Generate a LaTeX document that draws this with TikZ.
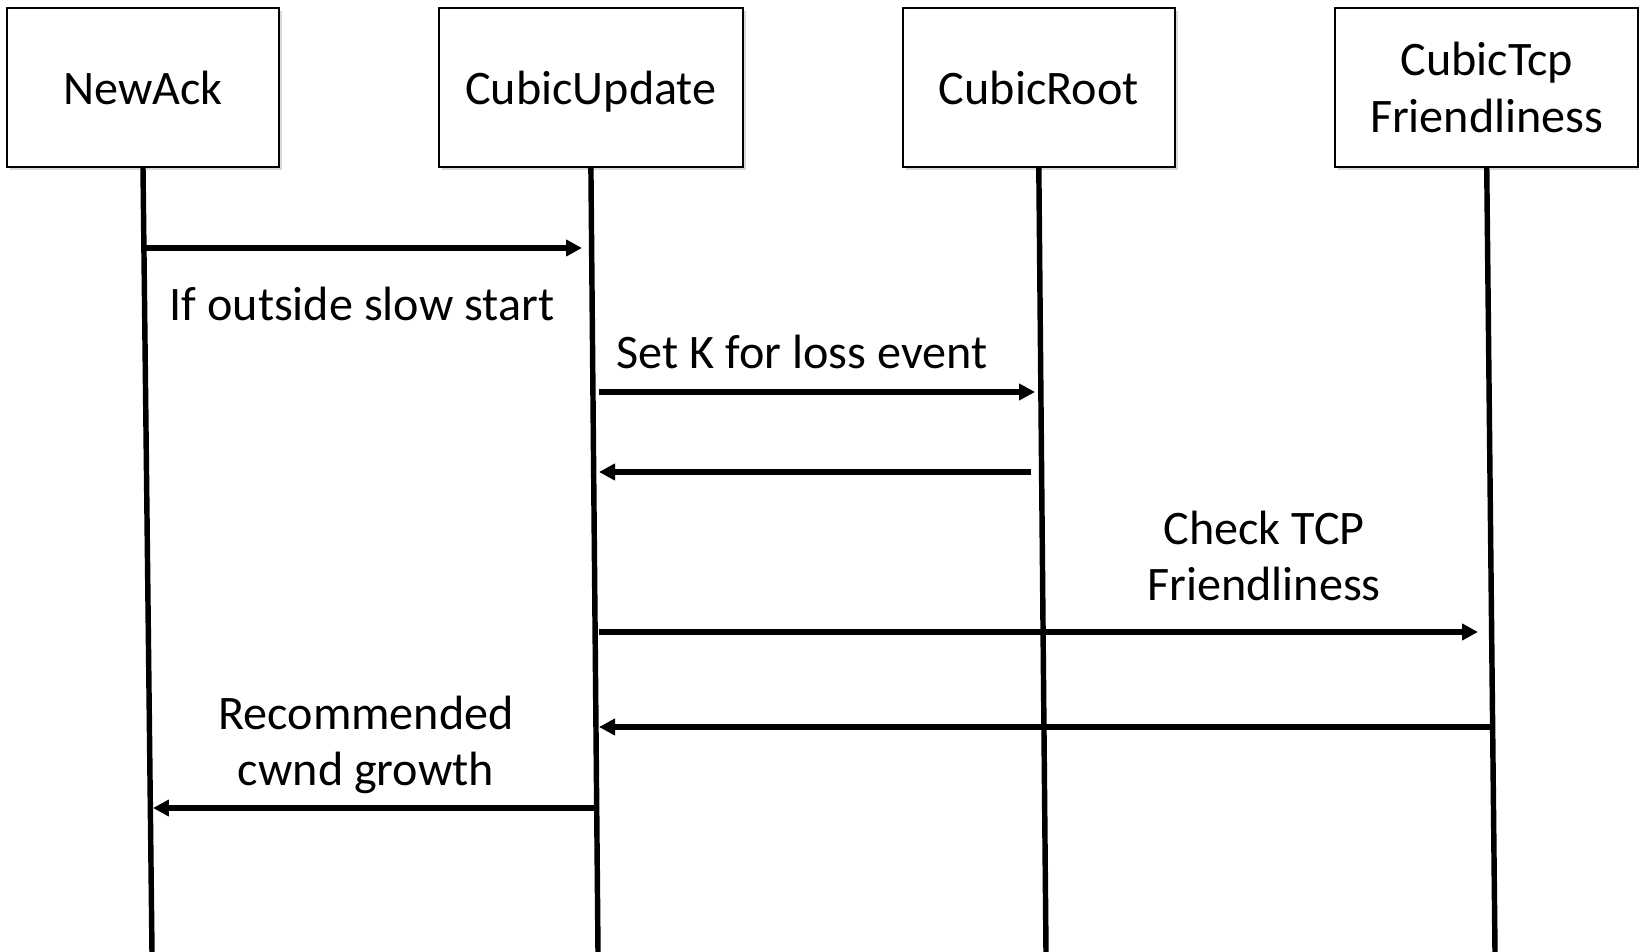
\documentclass[tikz,border=0pt]{standalone}
\usepackage{fontspec}
\setmainfont{Carlito}
\usepackage{tikz}
\usetikzlibrary{positioning, arrows.meta, shadows}

\begin{document}
\begin{tikzpicture}[x=0.02cm, y=-0.02cm, node distance=8.96cm, >={Triangle[length=0.32cm, width=0.32cm]}]
    % Stili
    \tikzstyle{block} = [draw, rectangle, fill=white, line width=1.2pt, minimum height=3.18cm, minimum width=5.44cm, align=center, font=\fontsize{27.4}{32}\selectfont, drop shadow={shadow xshift=0.06cm, shadow yshift=-0.06cm, opacity=0.3}]
    \tikzstyle{life} = [line width=3.1pt]
    \tikzstyle{msg} = [->, line width=3.1pt]
    \tikzstyle{lbl} = [align=center, font=\fontsize{27.4}{32}\selectfont]

    \useasboundingbox (0,0) rectangle (1639,952);

    % Oggetti
    \node [block] (ack) at (143,87.5) {NewAck};
    \node [block, right of=ack, minimum width=6.08cm, text depth=0pt] (upd) {CubicUpdate};
    \node [block, right of=upd] (root) {CubicRoot};
    \node [block, right of=root, minimum width=6.06cm] (tcp) {CubicTcp\\Friendliness};

    % Linee di vita
    \coordinate (ackend) at (152,952);
    \coordinate (updend) at (598,952);
    \coordinate (rootend) at (1046,952);
    \coordinate (tcpend) at (1495,952);
    \draw [life] (ack.south) -- (ackend);
    \draw [life] (upd.south) -- (updend);
    \draw [life] (root.south) -- (rootend);
    \draw [life] (tcp.south) -- (tcpend);

    % Estremi dei messaggi
    \coordinate (m1a) at (146,248);  \coordinate (m1b) at (582,248);
    \coordinate (m2a) at (599,392);  \coordinate (m2b) at (1035,392);
    \coordinate (m3a) at (1031,472); \coordinate (m3b) at (599,472);
    \coordinate (m4a) at (599,632);  \coordinate (m4b) at (1478,632);
    \coordinate (m5a) at (1492,727); \coordinate (m5b) at (599,727);
    \coordinate (m6a) at (596,808);  \coordinate (m6b) at (153,808);

    % Messaggi
    \draw [msg] (m1a) -- (m1b);
    \draw [msg] (m2a) -- (m2b);
    \draw [msg] (m3a) -- (m3b);
    \draw [msg] (m4a) -- (m4b);
    \draw [msg] (m5a) -- (m5b);
    \draw [msg] (m6a) -- (m6b);

    % Etichette
    \node [lbl] (l1) at (362,304) {If outside slow start};
    \node [lbl] (l2) at (802,352) {Set K for loss event};
    \node [lbl] (l4) at (1264,556) {Check TCP\\Friendliness};
    \node [lbl] (l6) at (366,745) {Recommended\\cwnd growth};

\end{tikzpicture}
\end{document}
